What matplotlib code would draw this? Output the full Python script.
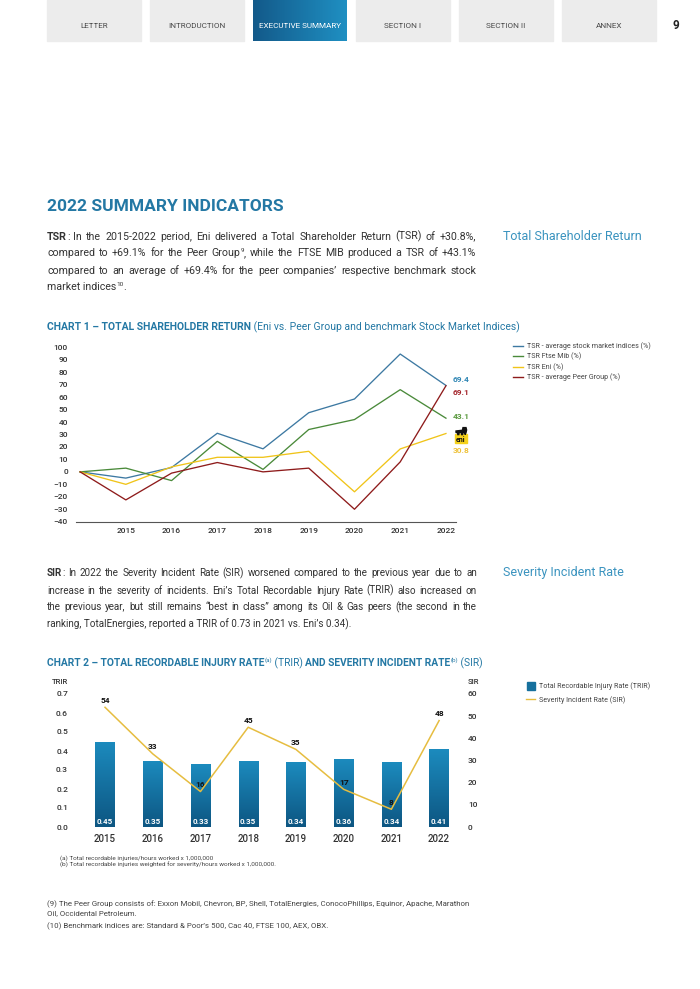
import re
import matplotlib
matplotlib.use("Agg")
import matplotlib.pyplot as plt
from matplotlib.colors import LinearSegmentedColormap
from matplotlib.patches import Rectangle, Polygon
from matplotlib.lines import Line2D
import numpy as np

plt.rcParams['font.family'] = ['Roboto', 'DejaVu Sans']

#-----------------------Data----------------------------------
tabs = ["LETTER", "INTRODUCTION", "EXECUTIVE SUMMARY", "SECTION I", "SECTION II", "ANNEX"]
active_tab = "EXECUTIVE SUMMARY"
page_no = "9"

# chart 1: first point is the 2014 base (no label)
tsr_years = ["", "2015", "2016", "2017", "2018", "2019", "2020", "2021", "2022"]
tsr_stock_indices = [0, -5, 3.5, 31, 18.5, 47.5, 58.5, 94.6, 69.4]
tsr_ftse_mib = [0, 3, -7, 24.5, 2, 34, 42, 66, 43.1]
tsr_eni = [0, -10, 4, 11.7, 11.7, 16.5, -16, 18.4, 30.8]
tsr_peer_group = [0, -22.5, -1, 7.5, 0, 3, -30, 8, 69.1]
tsr_names = ["TSR - average stock market indices (%)", "TSR Ftse Mib (%)",
             "TSR Eni (%)", "TSR - average Peer Group (%)"]

# chart 2
years = ["2015", "2016", "2017", "2018", "2019", "2020", "2021", "2022"]
trir = [0.45, 0.35, 0.33, 0.35, 0.34, 0.36, 0.34, 0.41]
sir = [54, 33, 16, 45, 35, 17, 8, 48]
chart2_names = ["Total Recordable Injury Rate (TRIR)", "Severity Incident Rate (SIR)"]

title = "2022 SUMMARY INDICATORS"
para_tsr = [
    "*TSR*: In the 2015-2022 period, Eni delivered a Total Shareholder Return (TSR) of +30.8%,",
    "compared to +69.1% for the Peer Group^9^, while the FTSE MIB produced a TSR of +43.1%",
    "compared to an average of +69.4% for the peer companies\u2019 respective benchmark stock",
    "market indices^10^.",
]
para_sir = [
    "*SIR*: In 2022 the Severity Incident Rate (SIR) worsened compared to the previous year due to an",
    "increase in the severity of incidents. Eni\u2019s Total Recordable Injury Rate (TRIR) also increased on",
    "the previous year, but still remains \u201cbest in class\u201d among its Oil & Gas peers (the second in the",
    "ranking, TotalEnergies, reported a TRIR of 0.73 in 2021 vs. Eni\u2019s 0.34).",
]
chart1_title = "*CHART 1 \u2013 TOTAL SHAREHOLDER RETURN* (Eni vs. Peer Group and benchmark Stock Market Indices)"
chart2_title = "*CHART 2 \u2013 TOTAL RECORDABLE INJURY RATE*^(a)^ (TRIR) *AND SEVERITY INCIDENT RATE*^(b)^ (SIR)"
notes_ab = ["(a) Total recordable injuries/hours worked x 1,000,000",
            "(b) Total recordable injuries weighted for severity/hours worked x 1,000,000."]
notes_910 = ["(9) The Peer Group consists of: Exxon Mobil, Chevron, BP, Shell, TotalEnergies, ConocoPhillips, Equinor, Apache, Marathon",
             "Oil, Occidental Petroleum.",
             "(10) Benchmark indices are: Standard & Poor\u2019s 500, Cac 40, FTSE 100, AEX, OBX."]

#-----------------------Colours-------------------------------
teal = "#2478a4"
side_teal = "#3a93bf"
body = "#333333"
c_blue, c_green, c_yellow, c_red = "#3d79a2", "#4a8a3a", "#f0c419", "#8e1b1b"

#-----------------------Page----------------------------------
W, H = 700, 989
fig = plt.figure(figsize=(W / 100, H / 100), dpi=100)
page = fig.add_axes([0, 0, 1, 1])
page.axis("off")
R = fig.canvas.get_renderer()


def box(l, t, r, b):
    return [l / W, 1 - b / H, (r - l) / W, (b - t) / H]


def segments(line):
    # *bold* and ^superscript^ markup -> list of (text, bold, sup)
    segs, bold, sup = [], False, False
    for tok in re.split(r"([*^])", line):
        if tok == "*":
            bold = not bold
        elif tok == "^":
            sup = not sup
        elif tok:
            segs.append((tok, bold, sup))
    return segs


def parse(line):
    # same markup, split into words made of pieces
    words, cur = [], []
    for s, b, sup in segments(line):
        parts = s.split(" ")
        for i, p in enumerate(parts):
            if i > 0:
                words.append(cur)
                cur = []
            if p:
                cur.append((p, b, sup))
    words.append(cur)
    return [w for w in words if w]


def ink(s, size, weight):
    t = page.text(0, 0, s, fontsize=size, fontweight=weight)
    w = t.get_window_extent(R).width
    t.remove()
    return w


def measure(s, size, weight):
    # advance width: probe with a trailing bar so bearings don't count
    return ink(s + "|", size, weight) - ink("|", size, weight)


def line_width(line, size, norm="normal", bold="bold"):
    return sum(measure(s, size * (0.6 if sup else 1), bold if b else norm)
               for s, b, sup in segments(line))


def draw_runs(line, x, y, size, color, norm="normal", bold="bold"):
    for s, b, sup in segments(line):
        sz = size * (0.6 if sup else 1)
        rise = size * 1.389 * 0.42 if sup else 0
        page.text(x, y - rise, s, fontsize=sz, color=color,
                  fontweight=bold if b else norm, va="baseline")
        x += measure(s, sz, bold if b else norm)


def draw_justified(line, x, y, size, color, x1, norm="normal", bold="bold"):
    words = parse(line)
    widths = [sum(measure(s, size * (0.6 if sup else 1), bold if b else norm)
                  for s, b, sup in w) for w in words]
    gap = (x1 - x - sum(widths)) / (len(words) - 1)
    for w, ww in zip(words, widths):
        cx = x
        for s, b, sup in w:
            sz = size * (0.6 if sup else 1)
            rise = size * 1.389 * 0.42 if sup else 0
            page.text(cx, y - rise, s, fontsize=sz, color=color,
                      fontweight=bold if b else norm, va="baseline")
            cx += measure(s, sz, bold if b else norm)
        x += ww + gap


def fit_size(line, target, size, norm="normal", bold="bold"):
    return size * target / line_width(line, size, norm, bold)


def paragraph(lines, x0, x1, y0, dy, size, color):
    widest = max(line_width(l, size) for l in lines[:-1])
    size = min(size, size * (x1 - x0) * 0.975 / widest)
    for i, l in enumerate(lines):
        if i < len(lines) - 1:
            draw_justified(l, x0, y0 + i * dy, size, color, x1)
        else:
            draw_runs(l, x0, y0 + i * dy, size, color)


#-----------------------Header tabs---------------------------
tab_left = [47, 150, 253, 356, 459, 562]
tab_w = 94
tab_size = fit_size(active_tab, 84, 6)
tab_cmap = LinearSegmentedColormap.from_list("tab", ["#135a8a", "#1f8fc2"])
for name, l in zip(tabs, tab_left):
    if name == active_tab:
        page.imshow(np.linspace(0, 1, 64).reshape(1, -1), extent=(l, l + tab_w, 41, 0),
                    cmap=tab_cmap, aspect="auto", zorder=1)
        col = "white"
    else:
        page.add_patch(Rectangle((l, 0), tab_w, 41, color="#ececec", zorder=1))
        col = "#4a4a4a"
    page.text(l + tab_w / 2, 27.5, name, fontsize=tab_size, color=col,
              ha="center", va="baseline", zorder=2)
page.text(676, 29, page_no, fontsize=8.5, fontweight="bold", color="#222",
          ha="center", va="baseline")

#-----------------------Texts---------------------------------
draw_runs(title, 47, 211, fit_size(title, 235, 11, "bold"), teal, norm="bold")
paragraph(para_tsr, 47, 476, 239.5, 17, 7.8, body)
s = fit_size("Total Shareholder Return", 137, 8.5)
page.text(503, 240, "Total Shareholder Return", fontsize=s, color=side_teal, va="baseline")
page.text(503, 576, "Severity Incident Rate", fontsize=s, color=side_teal, va="baseline")
draw_runs(chart1_title, 47, 330.5, fit_size(chart1_title, 470, 7), teal)
paragraph(para_sir, 47, 477, 576.5, 17, 7.8, body)
draw_runs(chart2_title, 47, 666.5, fit_size(chart2_title, 442, 7), teal)

ns = fit_size(notes_ab[1], 219, 5)
for i, l in enumerate(notes_ab):
    page.text(60, 859.5 + i * 7, l, fontsize=ns, color="#444", va="baseline")
ns = fit_size(notes_910[0], 429, 6)
for l, y in zip(notes_910, [906, 915, 928]):
    page.text(47, y, l, fontsize=ns, color="#444", va="baseline")

#-----------------------Chart 1-------------------------------
ax1 = fig.add_axes(box(76, 347.3, 456, 521.7))
ax1.set_facecolor("none")
xs = np.arange(len(tsr_years))
series = [tsr_stock_indices, tsr_ftse_mib, tsr_eni, tsr_peer_group]
colors = [c_blue, c_green, c_yellow, c_red]
for vals, col in zip(series, colors):
    ax1.plot(xs, vals, color=col, lw=0.95)
ax1.set_xlim(-0.09, 8.22)
ax1.set_ylim(-40, 100)
ax1.set_yticks(range(-40, 101, 10))
ax1.set_xticks(xs[1:])
ax1.set_xticklabels(tsr_years[1:])
for sp in ["top", "right", "left"]:
    ax1.spines[sp].set_visible(False)
ax1.spines["bottom"].set_color("#555")
ax1.spines["bottom"].set_linewidth(0.8)
ax1.spines["bottom"].set_position(("data", -40))
ax1.tick_params(length=0, labelsize=6, labelcolor="#333")
ax1.tick_params(axis="y", pad=5.8)
ax1.tick_params(axis="x", pad=4.5)
for t in ax1.get_xticklabels() + ax1.get_yticklabels():
    t.set_fontweight("medium")

# end labels
end_labels = [(f"{tsr_stock_indices[-1]:.1f}", 382, "#2f86b4"),
              (f"{tsr_peer_group[-1]:.1f}", 395, "#a3242a"),
              (f"{tsr_ftse_mib[-1]:.1f}", 419, "#5b9a3f"),
              (f"{tsr_eni[-1]:.1f}", 453, "#eec23a")]
for txt, y, col in end_labels:
    page.text(453, y, txt, fontsize=6, fontweight="bold", color=col, va="baseline")
# eni logo
page.add_patch(Rectangle((455, 433.5), 12, 9.5, color="#f5d21c", zorder=3))
page.text(461, 441.5, "eni", fontsize=5, fontweight="bold", color="#111",
          ha="center", va="baseline", zorder=4)
dog = [(456, 431), (462.5, 430.2), (463, 427.6), (466, 427.6), (466.6, 430), (466, 432.6),
       (465.2, 434.6), (464.6, 432.6), (463, 432.6), (462.6, 434.6), (461.6, 434.6),
       (461.4, 432.6), (459.2, 432.6), (458.8, 434.6), (457.8, 434.6), (457.6, 432.6), (456, 432.6)]
page.add_patch(Polygon(dog, closed=True, color="#111", zorder=4))

# legend 1
for i, (name, col) in enumerate(zip(tsr_names, colors)):
    y = 346 + i * 10.3
    page.add_line(Line2D([513, 523], [y, y], color=col, lw=1.0))
    page.text(527, y + 2.2, name, fontsize=fit_size(tsr_names[0], 123, 5.5),
              color="#444", va="baseline")

#-----------------------Chart 2-------------------------------
ax2 = fig.add_axes(box(74, 694, 462, 827))
ax2.set_facecolor("none")
xb = np.arange(len(years))
bars = ax2.bar(xb, trir, width=0.405, color="#15729f", zorder=2)
bar_cmap = LinearSegmentedColormap.from_list("bar", ["#1c8bbe", "#0d5682"])
grad = np.linspace(0, 1, 100).reshape(-1, 1)
for b in bars:
    im = ax2.imshow(grad, extent=(b.get_x(), b.get_x() + b.get_width(), 0, b.get_height()),
                    cmap=bar_cmap, aspect="auto", origin="upper", zorder=3)
    im.set_clip_path(b)
for x, v in zip(xb, trir):
    ax2.annotate(f"{v:.2f}", (x, 0), xytext=(0, 3.8), textcoords="offset points",
                 ha="center", va="center", fontsize=5.8, fontweight="bold",
                 color="white", zorder=5)
ax2.set_xlim(-0.65, 7.48)
ax2.set_ylim(0, 0.7)
ax2.set_yticks(np.arange(0, 0.71, 0.1))
ax2.set_yticklabels([f"{v:.1f}" for v in np.arange(0, 0.71, 0.1)])
ax2.set_xticks(xb)
ax2.set_xticklabels(years)
ax2.tick_params(length=0, labelsize=6, labelcolor="#333", pad=4.3)
ax2.tick_params(axis="x", labelsize=7, pad=5)

ax3 = ax2.twinx()
ax3.plot(xb, sir, color="#e6bd40", lw=1.1, zorder=4)
for x, v in zip(xb, sir):
    ax3.annotate(str(v), (x, v), xytext=(0, 5), textcoords="offset points",
                 ha="center", va="center", fontsize=6, fontweight="bold", color="#111")
ax3.set_ylim(0, 60)
ax3.set_yticks(range(0, 61, 10))
ax3.tick_params(length=0, labelsize=6, labelcolor="#333", pad=4.3)
for a in (ax2, ax3):
    for sp in a.spines.values():
        sp.set_visible(False)
    for t in a.get_xticklabels() + a.get_yticklabels():
        t.set_fontweight("medium")
page.text(68, 684, "TRIR", fontsize=5.5, fontweight="medium", color="#333", ha="right", va="baseline")
page.text(468, 684, "SIR", fontsize=5.5, fontweight="medium", color="#333", ha="left", va="baseline")

# legend 2
ls = fit_size(chart2_names[0], 111, 5.5)
page.add_patch(Rectangle((527, 682), 8, 8, color="#16709d"))
page.text(539, 688.5, chart2_names[0], fontsize=ls, color="#444", va="baseline")
page.add_line(Line2D([526, 535], [699, 699], color="#e6bd40", lw=1.0))
page.text(539, 701.5, chart2_names[1], fontsize=ls, color="#444", va="baseline")

page.set_xlim(0, W)
page.set_ylim(H, 0)
fig.savefig("out.png", dpi=100, facecolor="white")
